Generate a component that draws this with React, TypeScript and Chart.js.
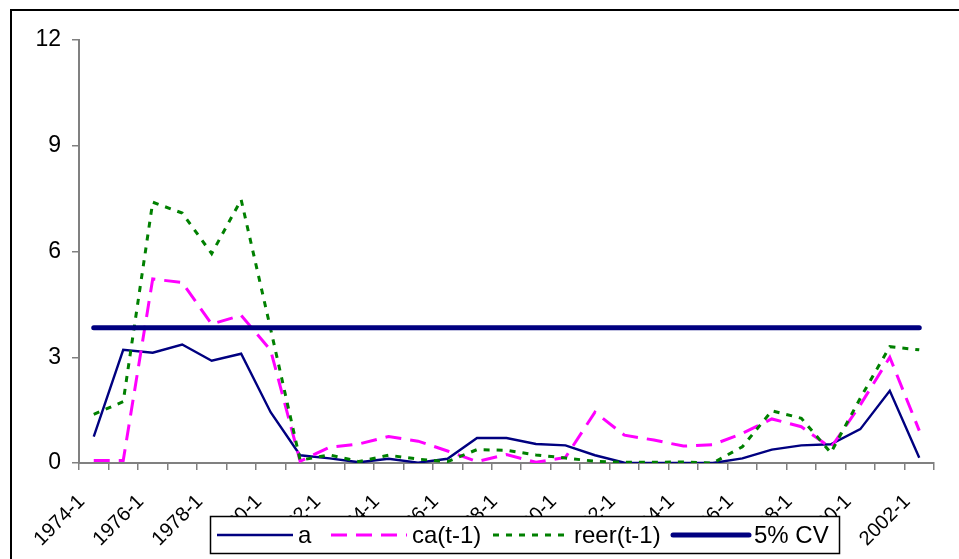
import React, { useEffect, useRef } from "react";
import { Chart, registerables } from "chart.js";

Chart.register(...registerables);

const categories = [
  "1974-1", "1975-1", "1976-1", "1977-1", "1978-1", "1979-1", "1980-1", "1981-1",
  "1982-1", "1983-1", "1984-1", "1985-1", "1986-1", "1987-1", "1988-1", "1989-1",
  "1990-1", "1991-1", "1992-1", "1993-1", "1994-1", "1995-1", "1996-1", "1997-1",
  "1998-1", "1999-1", "2000-1", "2001-1", "2002-1",
];

const seriesA = [
  0.75, 3.21, 3.13, 3.36, 2.9, 3.1, 1.44, 0.22, 0.13, 0.02, 0.12, 0.01, 0.12, 0.71, 0.71,
  0.54, 0.5, 0.22, 0.01, 0.0, 0.0, 0.0, 0.13, 0.38, 0.5, 0.53, 0.96, 2.05, 0.15,
];

const seriesCa = [
  0.07, 0.07, 5.22, 5.12, 3.94, 4.19, 3.2, 0.05, 0.45, 0.54, 0.75, 0.62, 0.34, 0.04, 0.24,
  0.02, 0.16, 1.44, 0.79, 0.65, 0.48, 0.52, 0.84, 1.25, 1.03, 0.43, 1.65, 3.0, 0.92,
];

const seriesReer = [
  1.38, 1.74, 7.4, 7.09, 5.94, 7.47, 3.8, 0.08, 0.23, 0.04, 0.22, 0.11, 0.04, 0.38, 0.36,
  0.23, 0.14, 0.05, 0.02, 0.02, 0.03, 0.0, 0.46, 1.48, 1.27, 0.29, 1.84, 3.3, 3.21,
];

const cvValue = 3.84;
const seriesCv = categories.map(() => cvValue);

const yTicks = [0, 3, 6, 9, 12];

const FONT = "'Liberation Sans', Arial, sans-serif";

const legendPlugin = {
  id: "boxLegend",
  afterDraw(chart: any) {
    const ctx = chart.ctx as CanvasRenderingContext2D;
    const box = { x: 210.5, y: 516.5, w: 629, h: 37 };
    const sampleStarts = [217, 331, 493, 673];
    const sampleLen = 76;
    ctx.save();
    ctx.fillStyle = "#ffffff";
    ctx.fillRect(box.x, box.y, box.w, box.h);
    ctx.strokeStyle = "#000000";
    ctx.lineWidth = 1.5;
    ctx.strokeRect(box.x, box.y, box.w, box.h);
    const cy = box.y + box.h / 2;
    chart.data.datasets.forEach((ds: any, i: number) => {
      const sx = sampleStarts[i];
      ctx.beginPath();
      ctx.strokeStyle = ds.borderColor;
      ctx.lineWidth = ds.borderWidth;
      ctx.lineCap = ds.borderCapStyle || "butt";
      ctx.setLineDash(ds.borderDash || []);
      ctx.moveTo(sx, cy);
      ctx.lineTo(sx + sampleLen, cy);
      ctx.stroke();
      ctx.setLineDash([]);
      ctx.fillStyle = "#000000";
      ctx.font = `24px ${FONT}`;
      ctx.textBaseline = "middle";
      ctx.textAlign = "left";
      ctx.fillText(ds.label, sx + sampleLen + 5, cy + 1);
    });
    ctx.restore();
  },
};

export default function App() {
  const canvasRef = useRef<HTMLCanvasElement | null>(null);

  useEffect(() => {
    const canvas = canvasRef.current;
    if (!canvas) return;
    const chart = new Chart(canvas, {
      type: "line",
      data: {
        labels: categories,
        datasets: [
          {
            label: "a",
            data: seriesA,
            borderColor: "#000080",
            borderWidth: 2.4,
            pointRadius: 0,
            tension: 0,
            fill: false,
            order: 3,
          },
          {
            label: "ca(t-1)",
            data: seriesCa,
            borderColor: "#FF00FF",
            borderWidth: 3,
            borderDash: [16, 9],
            pointRadius: 0,
            tension: 0,
            fill: false,
            order: 2,
          },
          {
            label: "reer(t-1)",
            data: seriesReer,
            borderColor: "#008000",
            borderWidth: 3,
            borderDash: [6, 7],
            pointRadius: 0,
            tension: 0,
            fill: false,
            order: 1,
          },
          {
            label: "5% CV",
            data: seriesCv,
            borderColor: "#000080",
            borderWidth: 5,
            borderCapStyle: "round",
            pointRadius: 0,
            tension: 0,
            fill: false,
            order: 0,
          },
        ],
      },
      options: {
        responsive: false,
        animation: false,
        events: [],
        layout: { padding: { left: 0, right: 25, top: 40, bottom: 0 } },
        plugins: {
          legend: { display: false },
          tooltip: { enabled: false },
        },
        scales: {
          x: {
            type: "category",
            offset: true,
            grid: {
              offset: true,
              drawOnChartArea: false,
              drawTicks: true,
              tickLength: 7,
              color: "#808080",
              lineWidth: 1.5,
            },
            border: { display: true, color: "#808080", width: 2 },
            ticks: {
              autoSkip: false,
              maxRotation: 45,
              minRotation: 45,
              padding: 20,
              labelOffset: -12,
              color: "#000000",
              font: { family: FONT, size: 20 },
              callback: (_v: any, i: number) => (i % 2 === 0 ? categories[i] : ""),
            },
            afterFit: (s: any) => {
              s.height = 96;
            },
          },
          y: {
            min: 0,
            max: 12,
            afterBuildTicks: (s: any) => {
              s.ticks = yTicks.map((v) => ({ value: v }));
            },
            grid: {
              drawOnChartArea: false,
              drawTicks: true,
              tickLength: 7,
              color: "#808080",
              lineWidth: 1.5,
            },
            border: { display: true, color: "#808080", width: 2 },
            ticks: {
              padding: 11,
              color: "#000000",
              font: { family: FONT, size: 23 },
            },
            afterFit: (s: any) => {
              s.width = 79;
            },
          },
        },
      },
      plugins: [legendPlugin],
    });
    return () => chart.destroy();
  }, []);

  return (
    <div
      style={{
        position: "fixed",
        left: 0,
        top: 0,
        width: 959,
        height: 559,
        overflow: "hidden",
        background: "#ffffff",
      }}
    >
      <div
        style={{
          position: "absolute",
          left: 10,
          top: 9,
          width: 2000,
          height: 2000,
          borderTop: "2px solid #000",
          borderLeft: "2px solid #000",
        }}
      />
      <canvas
        ref={canvasRef}
        width={959}
        height={559}
        style={{ position: "absolute", left: 0, top: 0, width: 959, height: 559 }}
      />
    </div>
  );
}
